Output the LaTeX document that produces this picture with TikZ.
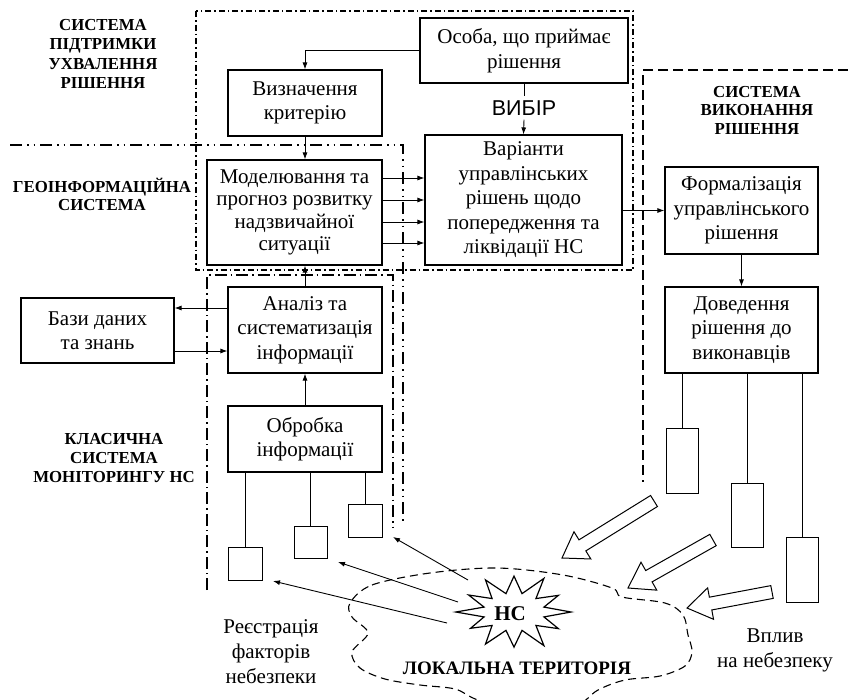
\documentclass[tikz,border=0pt]{standalone}
\usepackage{fontspec}
\setmainfont{Liberation Serif}
\newfontfamily\arialf{Liberation Sans}
\usetikzlibrary{arrows.meta,calc}
\newcommand\blockarr[3]{%
  \coordinate (#3h) at ($(#2)!24pt!(#1)$);
  \draw[line width=1pt,fill=white,line join=miter]
    ($(#1)!6.5pt!90:(#2)$) -- ($(#3h)!6.5pt!90:(#2)$) -- ($(#3h)!16pt!90:(#2)$) -- (#2)
    -- ($(#3h)!16pt!-90:(#2)$) -- ($(#3h)!6.5pt!-90:(#2)$) -- ($(#1)!6.5pt!-90:(#2)$) -- cycle;}
\begin{document}
\begin{tikzpicture}[x=1pt,y=-1pt,
  box/.style={draw,line width=1.1pt,inner sep=0pt,align=center,font=\fontsize{21}{24.5}\selectfont},
  sq/.style={draw,line width=1pt,inner sep=0pt},
  arr/.style={line width=0.9pt,-{Latex[length=7pt,width=5pt]}},
  ln/.style={line width=0.9pt},
  lab/.style={align=center,font=\fontsize{16.8}{19.3}\selectfont\bfseries},
  txt/.style={align=center,font=\fontsize{21}{25}\selectfont},
  sppr/.style={line width=1.1pt,dash pattern=on 6pt off 3pt on 1.5pt off 3pt},
  gis/.style={line width=1.1pt,dash pattern=on 12pt off 5pt on 1.5pt off 5pt on 1.5pt off 5pt},
  klas/.style={line width=1.1pt,dash pattern=on 12pt off 4pt on 1.5pt off 4pt},
  exe/.style={line width=1.1pt,dash pattern=on 10pt off 5pt},
  cloud/.style={line width=1.1pt,dash pattern=on 8pt off 5pt}
]
\useasboundingbox (0,0) rectangle (848,699);

% region boundaries
\draw[sppr] (196,11) rectangle (633,270);
\draw[gis] (10,145) -- (403,145) -- (403,525);
\draw[klas] (207,590) -- (207,275) -- (393,275) -- (393,527);
\draw[exe] (848,70) -- (643,70) -- (643,482);

% region labels
\node[lab] (lsppr) at (103,54) {СИСТЕМА\\ПІДТРИМКИ\\УХВАЛЕННЯ\\РІШЕННЯ};
\node[lab,font=\fontsize{16.8}{18}\selectfont\bfseries] (lgis) at (102,194) {ГЕОІНФОРМАЦІЙНА\\СИСТЕМА};
\node[lab] (lklas) at (114,458) {КЛАСИЧНА\\СИСТЕМА\\МОНІТОРИНГУ НС};
\node[lab,font=\fontsize{16.8}{18.5}\selectfont\bfseries] (lexe) at (757,110) {СИСТЕМА\\ВИКОНАННЯ\\РІШЕННЯ};

% boxes
\node[box,minimum width=208pt,minimum height=65pt] (osoba) at (524,50.5) {Особа, що приймає\\рішення};
\node[box,minimum width=154pt,minimum height=66pt] (viz) at (305,103) {Визначення\\критерію};
\node[box,minimum width=175pt,minimum height=105pt,font=\fontsize{21}{22.5}\selectfont] (model) at (294.5,212.5) {Моделювання та\\прогноз розвитку\\надзвичайної\\ситуації};
\node[box,minimum width=197pt,minimum height=130pt] (var) at (523.5,200) {Варіанти\\управлінських\\рішень щодо\\попередження та\\ліквідації НС};
\node[box,minimum width=153pt,minimum height=87pt] (form) at (741.5,210.5) {Формалізація\\управлінського\\рішення};
\node[box,minimum width=153pt,minimum height=86pt] (dov) at (741.5,330) {Доведення\\рішення до\\виконавців};
\node[box,minimum width=154pt,minimum height=86pt] (anal) at (305,330) {Аналіз та\\систематизація\\інформації};
\node[box,minimum width=153pt,minimum height=65pt] (baz) at (97.5,330.5) {Бази даних\\та знань};
\node[box,minimum width=154pt,minimum height=66pt] (obr) at (305,439) {Обробка\\інформації};

% sensors
\node[sq,minimum width=34pt,minimum height=33pt] (sq1) at (245,563.5) {};
\node[sq,minimum width=33pt,minimum height=32pt] (sq2) at (310.5,542) {};
\node[sq,minimum width=34pt,minimum height=33pt] (sq3) at (365,520.5) {};
% executors
\node[sq,minimum width=32pt,minimum height=65pt] (ex1) at (682,460.5) {};
\node[sq,minimum width=32pt,minimum height=64pt] (ex2) at (747,515) {};
\node[sq,minimum width=32pt,minimum height=65pt] (ex3) at (802,569.5) {};

% choice
\node[inner sep=4pt,font=\arialf\fontsize{21.5}{24}\selectfont] (vybir) at (524,108) {ВИБІР};

% connectors
\draw[arr] (osoba.west) -| (viz.north);
\draw[arr] (viz.south) -- (viz.south |- model.north);
\draw[arr] (anal.north) -- (anal.north |- model.south);
\draw[arr] (obr.north) -- (anal.south);
\foreach \yy in {178,200,222,243}
  \draw[arr] (model.east |- 0,\yy) -- (var.west |- 0,\yy);
\draw[ln] (osoba.south) -- (vybir.north);
\draw[arr] (vybir.south) -- (var.north);
\draw[arr] (var.east |- form.west) -- (form.west);
\draw[arr] (form.south) -- (dov.north);
\draw[arr] (anal.west |- 0,308) -- (baz.east |- 0,308);
\draw[arr] (baz.east |- 0,351) -- (anal.west |- 0,351);
\foreach \s in {sq1,sq2,sq3}
  \draw[ln] (\s.north |- obr.south) -- (\s.north);
\foreach \s in {ex1,ex2,ex3}
  \draw[ln] (\s.north |- dov.south) -- (\s.north);

% local territory cloud
\draw[cloud] plot[smooth cycle,tension=0.55] coordinates {
  (350,603) (372,585) (430,573) (497,568) (563,575) (612,588) (622,597)
  (665,603) (683,615) (688,635) (692,652) (685,666) (660,676) (625,680)
  (598,690) (575,706) (525,712) (478,700) (455,689) (420,685) (385,679)
  (360,668) (352,652) (368,633) (352,617)};

% emergency star
\coordinate (stc) at (514,612);
\draw[line width=1.2pt,fill=white,line join=miter] ($(stc)+({31*cos(-15)},{19*sin(-15)})$)
  \foreach \a/\f [evaluate=\a as \px using {57*\f*cos(\a)},
                  evaluate=\a as \py using {37*\f*sin(\a)},
                  evaluate=\a as \qx using {31*cos(\a+15)},
                  evaluate=\a as \qy using {19*sin(\a+15)}] in
   {0/1.0,30/0.9,60/1.05,90/0.95,120/1.0,150/0.88,180/1.02,210/0.92,240/1.0,270/0.97,300/1.05,330/0.9}
   { -- ($(stc)+(\px,\py)$) -- ($(stc)+(\qx,\qy)$) } -- cycle;
\node[font=\fontsize{21}{24}\selectfont\bfseries] (ns) at (510,614) {НС};
\node[font=\fontsize{19}{22}\selectfont\bfseries] (loc) at (517,668) {ЛОКАЛЬНА ТЕРИТОРІЯ};

% registration arrows
\coordinate (r1) at (468,580);
\coordinate (r1e) at (393,537);
\coordinate (r2) at (458,602);
\coordinate (r2e) at (338,562);
\coordinate (r3) at (447,623);
\coordinate (r3e) at (273,581);
\draw[arr] (r1) -- (r1e);
\draw[arr] (r2) -- (r2e);
\draw[arr] (r3) -- (r3e);

% influence block arrows
\coordinate (b1t) at (654,501);
\coordinate (b1p) at (562,558);
\coordinate (b2t) at (713,540);
\coordinate (b2p) at (628,588);
\coordinate (b3t) at (772,592);
\coordinate (b3p) at (687,608);
\blockarr{b1t}{b1p}{ba}
\blockarr{b2t}{b2p}{bb}
\blockarr{b3t}{b3p}{bc}

% captions
\node[txt] (reg) at (271,652) {Реєстрація\\факторів\\небезпеки};
\node[txt] (vpl) at (775,650) {Вплив\\на небезпеку};
\end{tikzpicture}
\end{document}
